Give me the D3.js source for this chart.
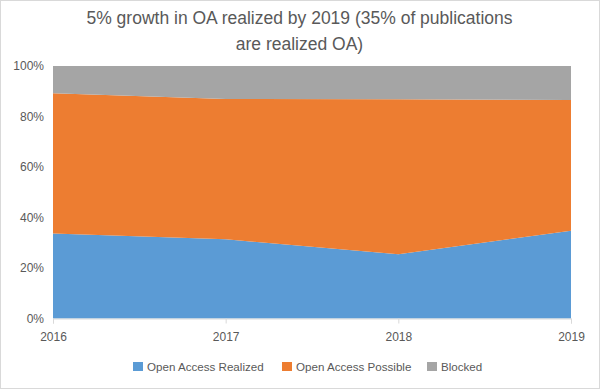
<!DOCTYPE html>
<html>
<head>
<meta charset="utf-8">
<script src="https://cdn.jsdelivr.net/npm/d3@7"></script>
<style>
  body { margin: 0; background: #fff; }
  text { font-family: "Liberation Sans", Arial, sans-serif; fill: #595959; }
</style>
</head>
<body>
<div id="chart"></div>
<script>
// chart data
var years = [2016, 2017, 2018, 2019];
var oaRealized = [33.7, 31.4, 25.4, 34.8];
var oaPossible = [55.5, 55.5, 61.4, 51.7];
var blocked = [10.8, 13.1, 13.2, 13.5];
var seriesNames = ["Open Access Realized", "Open Access Possible", "Blocked"];
var seriesColors = ["#5B9BD5", "#ED7D31", "#A5A5A5"];
var yTicks = [0, 20, 40, 60, 80, 100];
var titleLines = ["5% growth in OA realized by 2019 (35% of publications", "are realized OA)"];

var svgWidth = 600;
var svgHeight = 389;
var margin = { top: 66, right: 29, bottom: 70.5, left: 53 };
var chartWidth = svgWidth - margin.left - margin.right;
var chartHeight = svgHeight - margin.top - margin.bottom;

var svg = d3.select("#chart").append("svg")
    .attr("width", svgWidth)
    .attr("height", svgHeight);

// outer border
svg.append("rect")
    .attr("x", 0.5).attr("y", 0.5)
    .attr("width", svgWidth - 1).attr("height", svgHeight - 1)
    .attr("fill", "#fff")
    .attr("stroke", "#d9d9d9");

// title
svg.append("g").selectAll("text")
    .data(titleLines)
    .enter()
    .append("text")
    .attr("x", svgWidth / 2 - 0.5)
    .attr("y", (d, i) => 24 + i * 26)
    .attr("text-anchor", "middle")
    .style("font-size", "17.5px")
    .text(d => d);

var chartGroup = svg.append("g")
    .attr("transform", `translate(${margin.left}, ${margin.top})`);

var xScale = d3.scaleLinear()
    .domain([d3.min(years), d3.max(years)])
    .range([0, chartWidth]);

var yScale = d3.scaleLinear()
    .domain([0, 100])
    .range([chartHeight, 0]);

// build table for stack
var table = years.map(function(y, i) {
    return { year: y, s0: oaRealized[i], s1: oaPossible[i], s2: blocked[i] };
});
var stack = d3.stack().keys(["s0", "s1", "s2"]);
var layers = stack(table);

var area = d3.area()
    .x(d => xScale(d.data.year))
    .y0(d => yScale(d[0]))
    .y1(d => yScale(d[1]));

chartGroup.append("g").selectAll("path")
    .data(layers)
    .enter()
    .append("path")
    .attr("d", area)
    .attr("fill", (d, i) => seriesColors[i]);

// x axis
var bottomAxis = d3.axisBottom(xScale)
    .tickValues(years)
    .tickFormat(d3.format("d"))
    .tickSize(5)
    .tickPadding(9);

var xAxis = chartGroup.append("g")
    .attr("transform", `translate(0, ${chartHeight})`)
    .call(bottomAxis);
xAxis.select(".domain").attr("stroke", "#d9d9d9");
xAxis.selectAll(".tick line").attr("stroke", "#d9d9d9");
xAxis.selectAll("text")
    .style("font-size", "12px")
    .style("font-family", "\"Liberation Sans\", Arial, sans-serif")
    .attr("fill", "#595959");

// y axis
var leftAxis = d3.axisLeft(yScale)
    .tickValues(yTicks)
    .tickFormat(d => d + "%")
    .tickSize(0)
    .tickPadding(9);

var yAxis = chartGroup.append("g").call(leftAxis);
yAxis.select(".domain").remove();
yAxis.selectAll("text")
    .style("font-size", "12px")
    .style("font-family", "\"Liberation Sans\", Arial, sans-serif")
    .attr("fill", "#595959");

// legend
var legendX = [133, 282, 427];
var legend = svg.append("g").selectAll("g")
    .data(seriesNames)
    .enter()
    .append("g")
    .attr("transform", (d, i) => `translate(${legendX[i]}, 362)`);

legend.append("rect")
    .attr("width", 10).attr("height", 9)
    .attr("fill", (d, i) => seriesColors[i]);

legend.append("text")
    .attr("x", 14)
    .attr("y", 9)
    .style("font-size", "11.6px")
    .text(d => d);
</script>
</body>
</html>
